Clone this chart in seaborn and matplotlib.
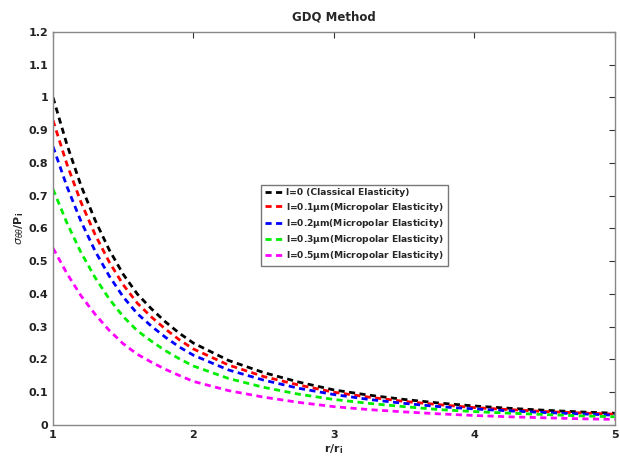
import numpy as np
import pandas as pd
import matplotlib
matplotlib.use("Agg")
import matplotlib.pyplot as plt
import seaborn as sns

# radial positions r/r_i
r = [1.0, 1.1, 1.2, 1.3, 1.4, 1.5, 1.6, 1.7, 1.8, 1.9, 2.0, 2.25, 2.5, 2.75,
     3.0, 3.25, 3.5, 3.75, 4.0, 4.25, 4.5, 4.75, 5.0]

# hoop stress sigma_theta_theta / P_i for each characteristic length
s_l0 = [1.000, 0.855, 0.730, 0.625, 0.535, 0.460, 0.400, 0.355, 0.315, 0.280,
        0.250, 0.197, 0.160, 0.131, 0.107, 0.091, 0.078, 0.067, 0.058, 0.051,
        0.045, 0.040, 0.036]
s_l01 = [0.930, 0.795, 0.679, 0.581, 0.498, 0.428, 0.372, 0.330, 0.293, 0.260,
         0.232, 0.183, 0.148, 0.122, 0.100, 0.085, 0.072, 0.062, 0.053, 0.047,
         0.041, 0.037, 0.033]
s_l02 = [0.850, 0.727, 0.621, 0.531, 0.455, 0.391, 0.340, 0.302, 0.268, 0.238,
         0.213, 0.168, 0.137, 0.112, 0.093, 0.078, 0.066, 0.056, 0.049, 0.043,
         0.038, 0.034, 0.030]
s_l03 = [0.720, 0.616, 0.526, 0.450, 0.385, 0.331, 0.288, 0.256, 0.227, 0.202,
         0.180, 0.142, 0.115, 0.094, 0.078, 0.066, 0.056, 0.047, 0.041, 0.036,
         0.032, 0.028, 0.025]
s_l05 = [0.540, 0.462, 0.394, 0.338, 0.289, 0.248, 0.216, 0.192, 0.170, 0.151,
         0.133, 0.105, 0.085, 0.069, 0.056, 0.047, 0.040, 0.034, 0.029, 0.025,
         0.022, 0.019, 0.017]

labels = ["l=0 (Classical Elasticity)",
          r"l=0.1$\mathbf{\mu}$m(Micropolar Elasticity)",
          r"l=0.2$\mathbf{\mu}$m(Micropolar Elasticity)",
          r"l=0.3$\mathbf{\mu}$m(Micropolar Elasticity)",
          r"l=0.5$\mathbf{\mu}$m(Micropolar Elasticity)"]
colors = ["#000000", "#ff0000", "#0000ff", "#00ee00", "#ff00ff"]
series = [s_l0, s_l01, s_l02, s_l03, s_l05]

df = pd.concat(
    [pd.DataFrame({"r": r, "stress": s, "case": lab}) for s, lab in zip(series, labels)],
    ignore_index=True,
)

sns.set_style("white")
plt.rcParams["font.family"] = ["DejaVu Sans"]
plt.rcParams["mathtext.fontset"] = "dejavusans"

fig = plt.figure(figsize=(6.2, 4.73), dpi=100)
ax = fig.add_axes([0.0855, 0.1015, 0.906, 0.831])

sns.lineplot(data=df, x="r", y="stress", hue="case", hue_order=labels,
             palette=dict(zip(labels, colors)), ax=ax, linewidth=2.0,
             legend=True)
for line in ax.get_lines():
    line.set_dashes((2.2, 1.6))

ax.set_xlim(1, 5)
ax.set_ylim(0, 1.2)
ax.set_xticks([1, 2, 3, 4, 5])
ax.set_yticks(np.round(np.arange(0, 1.21, 0.1), 1))
ax.set_yticklabels(["0", "0.1", "0.2", "0.3", "0.4", "0.5", "0.6", "0.7", "0.8",
                    "0.9", "1", "1.1", "1.2"])
ax.tick_params(direction="in", length=4, width=0.8, colors="#333333",
               labelsize=8, top=True, right=True, labelcolor="#222222")
for lab in ax.get_xticklabels() + ax.get_yticklabels():
    lab.set_fontweight("bold")
for sp in ax.spines.values():
    sp.set_color("#888888")
    sp.set_linewidth(1.0)

ax.set_title("GDQ Method", fontsize=8.5, fontweight="bold", pad=8)
ax.set_xlabel(r"r/r$_\mathbf{i}$", fontsize=8, fontweight="bold", labelpad=2)
ax.set_ylabel(r"$\sigma_{\theta\theta}$/P$_\mathbf{i}$", fontsize=8,
              fontweight="bold", labelpad=2)

handles, labs = ax.get_legend_handles_labels()
for h in handles:
    h.set_dashes((2.2, 1.6))
leg = ax.legend(handles, labs, loc="center", bbox_to_anchor=(0.537, 0.508),
                fontsize=6.6, frameon=True, fancybox=False, handlelength=2.2,
                handletextpad=0.1, borderpad=0.4, labelspacing=0.35,
                prop={"weight": "bold", "size": 6.6})
leg.get_frame().set_edgecolor("#555555")
leg.get_frame().set_linewidth(1.0)

fig.savefig("out.png", dpi=100)
